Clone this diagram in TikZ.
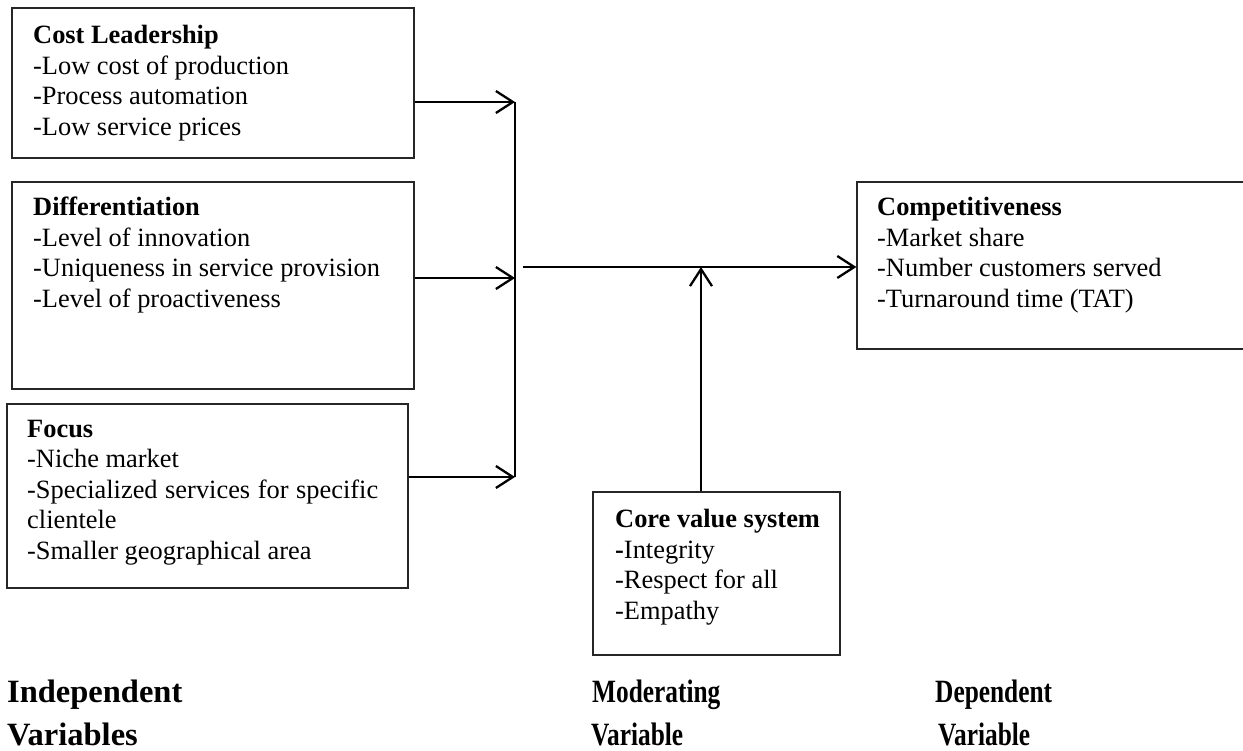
\documentclass[tikz,border=0pt]{standalone}
\usepackage{fontspec}
\setmainfont{Liberation Serif}
\usetikzlibrary{arrows.meta, positioning}
\tikzset{
    box/.style={rectangle, draw=black!85, line width=1.2pt, inner sep=0pt},
    txt/.style={align=left, inner sep=0pt, anchor=north west, font=\fontsize{26.4}{30.5}\selectfont},
    var/.style={inner sep=0pt, anchor=base west, font=\fontsize{32.5}{43}\selectfont\bfseries},
    arrow/.style={-{Straight Barb[length=17pt, width=22pt]}, line width=2.3pt},
    bus/.style={line width=1.4pt},
}

\begin{document}
\begin{tikzpicture}[x=1pt, y=-1pt]
    \clip (0,0) rectangle (1243,751);

    \node[box, minimum width=402pt, minimum height=150pt] (cost) at (213,83) {};
    \node[box, minimum width=402pt, minimum height=207pt] (diff) at (213,285.5) {};
    \node[box, minimum width=401pt, minimum height=184pt] (focus) at (207.5,496) {};
    \node[box, minimum width=403pt, minimum height=167pt] (comp) at (1058.5,265.5) {};
    \node[box, minimum width=247pt, minimum height=163pt] (core) at (716.5,573.5) {};

    \node[txt] (costtxt) at (33,25) {\textbf{Cost Leadership}\\
        -Low cost of production\\
        -Process automation\\
        -Low service prices};
    \node[txt] (difftxt) at (33,197) {\textbf{Differentiation}\\
        -Level of innovation\\
        -Uniqueness in service provision\\
        -Level of proactiveness};
    \node[txt] (focustxt) at (27,420) {\textbf{Focus}\\
        -Niche market\\
        \makebox[351pt][s]{-Specialized services for specific}\\
        clientele\\
        -Smaller geographical area};
    \node[txt] (comptxt) at (877,197) {\textbf{Competitiveness}\\
        -Market share\\
        -Number customers served\\
        -Turnaround time (TAT)};
    \node[txt] (coretxt) at (615,509) {\textbf{Core value system}\\
        \textbf{-}Integrity\\
        -Respect for all\\
        -Empathy};

    \coordinate (bustop) at (515,102);
    \coordinate (busmid) at (515,278);
    \coordinate (busbot) at (515,477);
    \coordinate (mainstart) at (523,267);
    \coordinate (joint) at (701,267);

    \draw[bus] (bustop) -- (busbot);
    \draw[arrow] (cost.east |- bustop) -- (bustop);
    \draw[arrow] (diff.east |- busmid) -- (busmid);
    \draw[arrow] (focus.east |- busbot) -- (busbot);
    \draw[arrow] (mainstart) -- (comp.west |- mainstart);
    \draw[arrow] (core.north -| joint) -- (joint);

    \node[var] (indep) at (7,702) {Independent};
    \node[var] (indepb) at (7,745) {Variables};
    \node[var] (moder) at (592,702) {\scalebox{0.78}[1]{Moderating}};
    \node[var] (moderb) at (591,745) {\scalebox{0.78}[1]{Variable}};
    \node[var] (dep) at (935,702) {\scalebox{0.78}[1]{Dependent}};
    \node[var] (depb) at (938,745) {\scalebox{0.78}[1]{Variable}};
\end{tikzpicture}
\end{document}
